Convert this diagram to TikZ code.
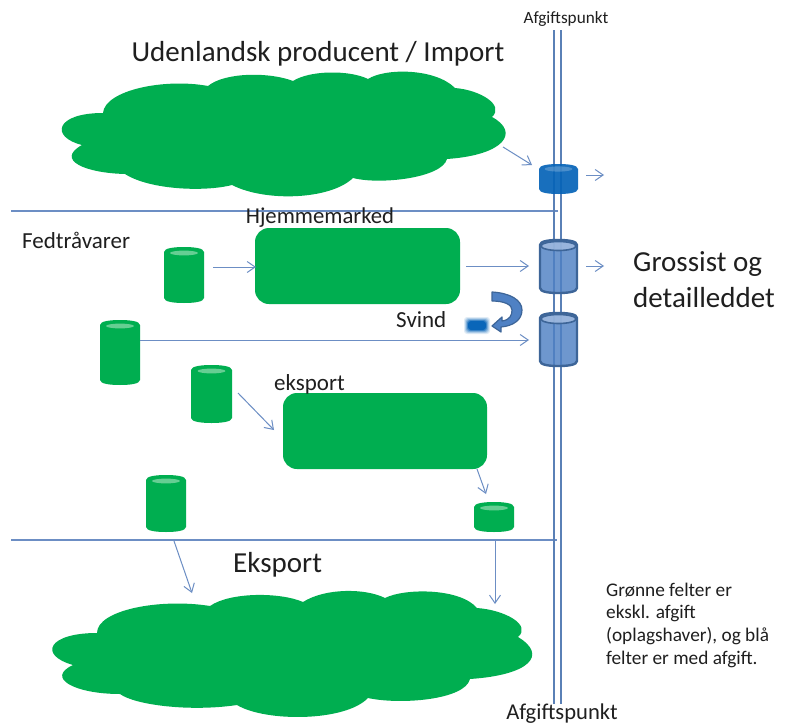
\documentclass[tikz,border=0pt]{standalone}
\usepackage{fontspec}
\setmainfont{Carlito}
\usetikzlibrary{arrows.meta}
\definecolor{gr}{HTML}{00AE50}
\definecolor{grl}{HTML}{66CE93}
\definecolor{ln}{HTML}{6C8EC4}
\definecolor{vln}{HTML}{5A80B6}
\definecolor{bfill}{HTML}{4F81C4}
\definecolor{bdark}{HTML}{3D6598}
\definecolor{blight}{HTML}{A3BCE0}
\definecolor{bsolid}{HTML}{0563B8}
\tikzset{
  x=1pt,y=-1pt,
  conn/.style={draw=ln,line width=1pt,-{Straight Barb[length=8pt,width=11pt,line width=1pt]}},
  hline/.style={draw=ln,line width=1.1pt},
  lab/.style={inner sep=0pt,text=black!88},
  box/.style={fill=gr,rounded corners=14pt,inner sep=0pt},
  anch/.style={inner sep=0pt,outer sep=0pt},
}
\newcommand{\barrelpath}[1]{([yshift=-5pt]#1.north west) .. controls ([yshift=-1pt]#1.north west) and ([xshift=-9pt]#1.north) .. (#1.north) .. controls ([xshift=9pt]#1.north) and ([yshift=-1pt]#1.north east) .. ([yshift=-5pt]#1.north east) -- ([yshift=5pt]#1.south east) .. controls ([yshift=1pt]#1.south east) and ([xshift=9pt]#1.south) .. (#1.south) .. controls ([xshift=-9pt]#1.south) and ([yshift=1pt]#1.south west) .. ([yshift=5pt]#1.south west) -- cycle}
\newcommand{\greenbarrel}[1]{\fill[gr] \barrelpath{#1}; \fill[grl] ([yshift=-6pt]#1.north) ellipse (14pt and 2.4pt);}
\newcommand{\bluebarrel}[1]{\fill[bfill,fill opacity=.82] \barrelpath{#1}; \draw[bdark,line width=2.4pt] \barrelpath{#1}; \draw[bdark,line width=1.6pt,fill=blight,fill opacity=.8] ([yshift=-6pt]#1.north) ellipse (17.5pt and 4.5pt);}
\begin{document}
\begin{tikzpicture}
\useasboundingbox (0,0) rectangle (785,728);
\fill[white] (0,0) rectangle (785,728);

% top cloud
\fill[gr] (103,113) .. controls (105,90) and (165,78) .. (208,86)
  .. controls (225,72) and (270,72) .. (293,81)
  .. controls (310,70) and (350,70) .. (368,79)
  .. controls (385,68) and (435,68) .. (455,88)
  .. controls (480,90) and (505,105) .. (492,117)
  .. controls (520,132) and (505,155) .. (447,159)
  .. controls (442,178) and (380,185) .. (353,178)
  .. controls (330,200) and (265,202) .. (232,185)
  .. controls (205,192) and (150,190) .. (125,174)
  .. controls (85,173) and (55,160) .. (82,145)
  .. controls (50,137) and (55,113) .. (103,113) -- cycle;
% bottom cloud
\fill[gr] (97,633) .. controls (97,610) and (160,598) .. (210,606)
  .. controls (230,592) and (280,592) .. (303,602)
  .. controls (325,588) and (365,588) .. (385,598)
  .. controls (405,588) and (460,588) .. (477,608)
  .. controls (505,610) and (532,625) .. (518,637)
  .. controls (548,655) and (530,675) .. (470,679)
  .. controls (465,700) and (400,705) .. (368,698)
  .. controls (345,722) and (265,722) .. (237,705)
  .. controls (190,712) and (135,705) .. (120,694)
  .. controls (75,694) and (45,678) .. (73,665)
  .. controls (38,655) and (48,633) .. (97,633) -- cycle;

% named ends
\coordinate (vlt) at (554,30); \coordinate (vlb) at (554,704);
\coordinate (vrt) at (561,30); \coordinate (vrb) at (561,704);
\coordinate (h1a) at (11,211); \coordinate (h1b) at (558,211);
\coordinate (h2a) at (11,540); \coordinate (h2b) at (557,540);
\coordinate (cloudTop) at (503,147);
\coordinate (a1) at (532,165);
\coordinate (o1a) at (586,175); \coordinate (o1b) at (604,175);
\coordinate (o2a) at (586,266); \coordinate (o2b) at (604,266);
\coordinate (a2a) at (213,267); \coordinate (a2b) at (256,267);
\coordinate (b0) at (466,266); \coordinate (b1) at (529,266);
\coordinate (b2a) at (140,340); \coordinate (b2) at (529,340);
\coordinate (c1) at (238,393); \coordinate (c2) at (274,430);
\coordinate (d1) at (174,541); \coordinate (d2) at (192,593);
\coordinate (e1) at (495,541); \coordinate (e2) at (495,604);
\coordinate (f1) at (477,469); \coordinate (f2) at (486,494);

% lines
\draw[hline] (h1a) -- (h1b);
\draw[hline] (h2a) -- (h2b);
\draw[draw=vln,line width=2.6pt] (vlt) -- (vlb);
\draw[draw=vln,line width=2pt] (vrt) -- (vrb);

% boxes
\node[box,minimum width=205pt,minimum height=76pt] (hjem) at (357.5,266) {};
\node[box,minimum width=204pt,minimum height=76pt] (eksp) at (385,431) {};

% green cylinders
\node[anch,minimum width=40pt,minimum height=56pt] (ca) at (184,275) {};
\node[anch,minimum width=40pt,minimum height=65pt] (cb) at (120,352.5) {};
\node[anch,minimum width=41pt,minimum height=58pt] (cc) at (211.5,394) {};
\node[anch,minimum width=40pt,minimum height=57pt] (cd) at (166,503.5) {};
\node[anch,minimum width=40pt,minimum height=30pt] (ce) at (494,517) {};
\greenbarrel{ca}\greenbarrel{cb}\greenbarrel{cc}\greenbarrel{cd}\greenbarrel{ce}

% blue cylinders
\node[anch,minimum width=39pt,minimum height=30pt] (bs) at (558.5,179) {};
\fill[bsolid,fill opacity=.92] \barrelpath{bs};
\fill[white,fill opacity=.22] ([yshift=-5pt]bs.north) ellipse (14pt and 2.6pt);
\node[anch,minimum width=37pt,minimum height=53pt] (bm) at (558.5,266.5) {};
\node[anch,minimum width=37pt,minimum height=53pt] (bl) at (558.5,339.5) {};
\bluebarrel{bm}\bluebarrel{bl}

% connectors
\draw[conn] (cloudTop) -- (a1);
\draw[conn] (o1a) -- (o1b);
\draw[conn] (a2a) -- (a2b);
\draw[conn] (b0) -- (b1);
\draw[conn] (o2a) -- (o2b);
\draw[conn] (b2a) -- (b2);
\draw[conn] (c1) -- (c2);
\draw[conn] (f1) -- (f2);
\draw[conn] (d1) -- (d2);
\draw[conn] (e1) -- (e2);

% svind blob
\foreach \g/\o in {4/.12,3/.2,2/.3,1/.5,0/.9}
  \fill[bsolid,fill opacity=\o,rounded corners=3pt] (468-\g,321-\g) rectangle (486+\g,330+\g);
% curved arrow
\fill[bfill,draw=bdark,line width=1.2pt,line join=round]
  (492,292) .. controls (510,293) and (522,300) .. (522,310)
  .. controls (522,320) and (513,326) .. (501,327)
  -- (501,332) -- (492,326) -- (502,317) -- (502,321)
  .. controls (510,320) and (512,315) .. (512,310)
  .. controls (512,305) and (505,301) .. (492,301) -- cycle;

% labels
\node[lab,font=\fontsize{17.2}{17.2}\selectfont] (t1) at (566,19) {Afgiftspunkt};
\node[lab,font=\fontsize{29}{29}\selectfont] (t2) at (318,54) {Udenlandsk producent / Import};
\node[lab,font=\fontsize{22.7}{22.7}\selectfont] (t3) at (320,218) {Hjemmemarked};
\node[lab,font=\fontsize{23}{23}\selectfont,anchor=west] (t4) at (22,240) {Fedtråvarer};
\node[lab,font=\fontsize{23}{23}\selectfont,anchor=west] (t5) at (396,320) {Svind};
\node[lab,font=\fontsize{23}{23}\selectfont,anchor=west] (t6) at (274,384) {eksport};
\node[lab,font=\fontsize{29}{29}\selectfont,anchor=west] (t7) at (233,565) {Eksport};
\node[lab,font=\fontsize{29}{29}\selectfont,anchor=west] (t8) at (633,264) {Grossist og};
\node[lab,font=\fontsize{29}{29}\selectfont,anchor=west] (t9) at (633,298) {detailleddet};
\node[lab,font=\fontsize{19.3}{19.3}\selectfont,anchor=west] (n1) at (606,590) {Grønne felter er};
\node[lab,font=\fontsize{19.3}{19.3}\selectfont,anchor=west] (n2) at (606,613) {ekskl. afgift};
\node[lab,font=\fontsize{19.3}{19.3}\selectfont,anchor=west] (n3) at (606,636) {(oplagshaver), og blå};
\node[lab,font=\fontsize{19.3}{19.3}\selectfont,anchor=west] (n4) at (606,659) {felter er med afgift.};
\node[lab,font=\fontsize{22.6}{22.6}\selectfont] (t10) at (562,714) {Afgiftspunkt};
\end{tikzpicture}
\end{document}
